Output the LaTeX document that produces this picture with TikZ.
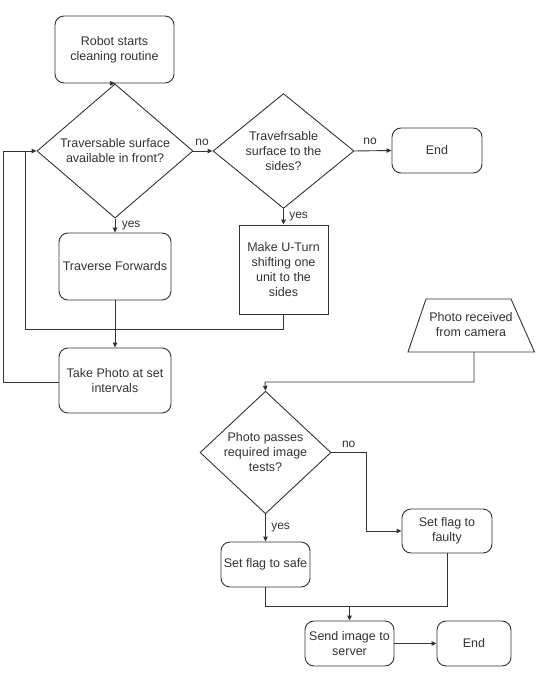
\documentclass[tikz,border=0pt]{standalone}
\usepackage{fontspec}
\setmainfont{Liberation Sans}
\usetikzlibrary{arrows.meta,shapes.geometric}
\begin{document}
\begin{tikzpicture}[x=1pt,y=-1pt,
  every node/.style={font=\fontsize{12.5}{15}\selectfont, text=black!80},
  rbox/.style={draw=black!80, line width=0.9pt, rounded corners=9pt, align=center, inner sep=0pt},
  sbox/.style={draw=black!80, line width=0.9pt, align=center, inner sep=0pt},
  dec/.style={draw=black!80, line width=0.9pt, diamond, align=center, inner sep=0pt},
  lbl/.style={font=\fontsize{12}{14}\selectfont},
  conn/.style={draw=black!80, line width=0.9pt},
  arr/.style={conn, -{Triangle[length=5pt,width=4.5pt]}}]
\useasboundingbox (0,0) rectangle (535,674);

% nodes
\node[rbox, minimum width=119pt, minimum height=67pt] (start) at (114.5,49.5) {Robot starts\\cleaning routine};
\node[dec, minimum width=156pt, minimum height=100pt] (d1) at (115,151) {Traversable surface\\available in front?};
\node[dec, minimum width=141pt, minimum height=88pt] (d2) at (283.5,151) {Travefrsable\\surface to the\\sides?};
\node[rbox, minimum width=90pt, minimum height=45pt] (end1) at (437,150.5) {End};
\node[sbox, minimum width=89pt, minimum height=89pt] (uturn) at (283.5,269.5) {Make U-Turn\\shifting one\\unit to the\\sides};
\node[rbox, minimum width=112pt, minimum height=67pt] (trav) at (115,266.5) {Traverse Forwards};
\node[rbox, minimum width=112pt, minimum height=65pt] (photo) at (115,380.5) {Take Photo at set\\intervals};

\node[align=center, inner sep=0pt] (recv) at (471,325) {Photo received\\from camera};
\draw[conn] (408,352) -- (426,299) -- (511,299) -- (534.5,352) -- cycle;
\coordinate (recvb) at (474,352);

\node[dec, minimum width=131pt, minimum height=111pt] (d3) at (265.5,452.5) {Photo passes\\required image\\tests?};
\node[rbox, minimum width=90pt, minimum height=44pt] (faulty) at (447,531) {Set flag to\\faulty};
\node[rbox, minimum width=89pt, minimum height=45pt] (safe) at (265.5,564.5) {Set flag to safe};
\node[rbox, minimum width=89pt, minimum height=45pt] (send) at (349.5,643.5) {Send image to\\server};
\node[rbox, minimum width=74pt, minimum height=45pt] (end2) at (474,643.5) {End};

% helper coordinates
\coordinate (lin) at (25,329);
\coordinate (linT) at (25,151);
\coordinate (lout) at (3,382);
\coordinate (loutT) at (3,151);
\coordinate (r1) at (474,382);
\coordinate (r2) at (265,382);
\coordinate (n1) at (366,452.5);
\coordinate (n2) at (366,531);
\coordinate (m1) at (265.5,606);
\coordinate (m2) at (447,606);
\coordinate (m3) at (349.5,606);

% connectors
\draw[arr] (start.south) -- (d1.north);
\draw[arr] (d1.east) -- node[lbl, above, pos=0.45, yshift=2pt] {no} (d2.west);
\draw[arr] (d2.east) -- node[lbl, above, pos=0.42, yshift=2pt] {no} (end1.west);
\draw[arr] (d2.south) -- node[lbl, right, pos=0.5, xshift=2pt] {yes} (uturn.north);
\draw[arr] (d1.south) -- node[lbl, right, pos=0.5, xshift=3pt] {yes} (trav.north);
\draw[arr] (trav.south) -- (photo.north);
\draw[conn] (uturn.south) |- (lin) -- (linT);
\draw[arr] (photo.west |- lout) -- (lout) -- (loutT) -- (d1.west);

\draw[arr] (recvb) -- (r1) -- (r2) -- (d3.north);
\draw[arr] (d3.south) -- node[lbl, right, pos=0.5, xshift=2pt] {yes} (safe.north);
\draw[arr] (d3.east) -- node[lbl, above, pos=0.5, yshift=1pt] {no} (n1) -- (n2) -- (faulty.west);
\draw[conn] (safe.south) -- (m1) -- (m2) -- (faulty.south);
\draw[arr] (m3) -- (send.north);
\draw[arr] (send.east) -- (end2.west);
\end{tikzpicture}
\end{document}
